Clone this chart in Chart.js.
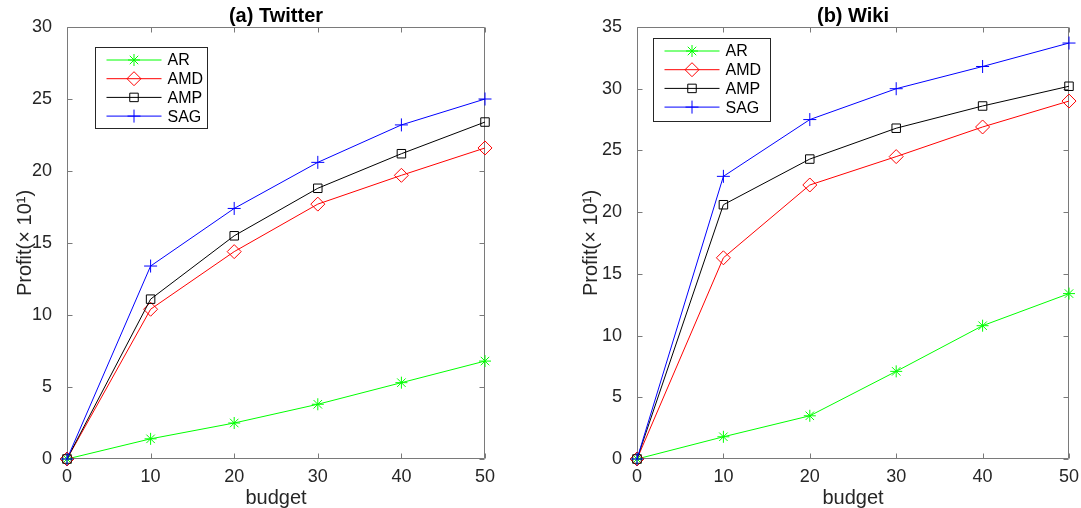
<!DOCTYPE html>
<html>
<head>
<meta charset="utf-8">
<title>Profit vs budget</title>
<script src="https://cdn.jsdelivr.net/npm/chart.js@4.4.1/dist/chart.umd.min.js"></script>
<style>
  html, body { margin: 0; padding: 0; background: #fff; }
  #wrap { position: relative; width: 1081px; height: 508px; overflow: hidden; }
  #wrap canvas { position: absolute; top: 0; }
  #twitterChart { left: 0; }
  #wikiChart { left: 540px; }
</style>
</head>
<body>
<div id="wrap">
  <canvas id="twitterChart" width="540" height="508"></canvas>
  <canvas id="wikiChart" width="541" height="508"></canvas>
</div>
<script>
// budget on the x axis, profit (x10) on the y axis
const budget = [0, 10, 20, 30, 40, 50];
const methods = ['AR', 'AMD', 'AMP', 'SAG'];

const twitterAR  = [0, 1.4, 2.5, 3.8, 5.3, 6.8];
const twitterAMD = [0, 10.4, 14.4, 17.7, 19.7, 21.6];
const twitterAMP = [0, 11.1, 15.5, 18.8, 21.2, 23.4];
const twitterSAG = [0, 13.4, 17.4, 20.6, 23.2, 25.0];

const wikiAR  = [0, 1.8, 3.5, 7.1, 10.8, 13.4];
const wikiAMD = [0, 16.3, 22.2, 24.5, 26.9, 29.0];
const wikiAMP = [0, 20.6, 24.3, 26.8, 28.6, 30.2];
const wikiSAG = [0, 22.9, 27.5, 30.0, 31.8, 33.7];

const xTicks = [0, 10, 20, 30, 40, 50];
const twitterYTicks = [0, 5, 10, 15, 20, 25, 30];
const wikiYTicks = [0, 5, 10, 15, 20, 25, 30, 35];

// line look per method
const lineColors = ['#00ff00', '#ff0000', '#000000', '#0000ff'];
const markers = ['star', 'rectRot', 'rect', 'cross'];
const markerSizes = [6, 7, 6, 6.5];

const FONT = "'Liberation Sans', Arial, Helvetica, sans-serif";
const INK = '#262626';
const FRAME = '#7a7a7a';

function makeDatasets(seriesList) {
    return seriesList.map((values, i) => ({
        label: methods[i],
        data: budget.map((b, j) => ({ x: b, y: values[j] })),
        borderColor: lineColors[i],
        backgroundColor: 'rgba(0,0,0,0)',
        borderWidth: 1,
        pointStyle: markers[i],
        pointRadius: markerSizes[i],
        pointBorderWidth: 1,
        pointBorderColor: lineColors[i],
        pointBackgroundColor: 'rgba(0,0,0,0)',
        tension: 0,
        clip: false,
        order: seriesList.length - i
    }));
}

// box, inward ticks on all four sides and the bold title
const matlabAxes = {
    id: 'matlabAxes',
    beforeDatasetsDraw(chart, args, opts) {
        const { ctx, chartArea: a, scales: { x, y } } = chart;
        const L = Math.round(a.left) + 0.5, R = Math.round(a.right) - 0.5;
        const T = Math.round(a.top) + 0.5, B = Math.round(a.bottom) - 0.5;
        ctx.save();
        ctx.strokeStyle = FRAME;
        ctx.lineWidth = 1;
        ctx.beginPath();
        ctx.rect(L, T, R - L, B - T);
        x.ticks.forEach(t => {
            const px = Math.round(x.getPixelForValue(t.value)) + 0.5;
            ctx.moveTo(px, B); ctx.lineTo(px, B - 5);
            ctx.moveTo(px, T); ctx.lineTo(px, T + 5);
        });
        y.ticks.forEach(t => {
            const py = Math.round(y.getPixelForValue(t.value)) + 0.5;
            ctx.moveTo(L, py); ctx.lineTo(L + 5, py);
            ctx.moveTo(R, py); ctx.lineTo(R - 5, py);
        });
        ctx.stroke();

        ctx.fillStyle = '#000';
        ctx.font = 'bold 20px ' + FONT;
        ctx.textAlign = 'center';
        ctx.textBaseline = 'middle';
        ctx.fillText(opts.text, (a.left + a.right) / 2, 16);
        ctx.restore();
    }
};

// framed legend sitting inside the top-left of the plot
const boxLegend = {
    id: 'boxLegend',
    afterDraw(chart, args, opts) {
        const { ctx, chartArea: a } = chart;
        const bx = Math.round(a.left + opts.left) + 0.5;
        const by = Math.round(a.top + opts.top) + 0.5;
        ctx.save();
        ctx.fillStyle = '#fff';
        ctx.strokeStyle = INK;
        ctx.lineWidth = 1;
        ctx.fillRect(bx, by, opts.width, opts.height);
        ctx.strokeRect(bx, by, opts.width, opts.height);

        ctx.font = '16px ' + FONT;
        ctx.textBaseline = 'middle';
        ctx.textAlign = 'left';
        chart.data.datasets.forEach((ds, i) => {
            const ry = by + 12.5 + i * 18.7;
            ctx.strokeStyle = ds.borderColor;
            ctx.beginPath();
            ctx.moveTo(bx + 11, ry);
            ctx.lineTo(bx + 66, ry);
            ctx.stroke();
            // open markers, same as in the plot
            ctx.fillStyle = 'rgba(0,0,0,0)';
            Chart.helpers.drawPoint(ctx, {
                pointStyle: ds.pointStyle,
                radius: ds.pointRadius,
                borderWidth: 1,
                rotation: 0
            }, bx + 38.5, ry);
            ctx.fillStyle = '#000';
            ctx.fillText(ds.label, bx + 72, ry + 1);
        });
        ctx.restore();
    }
};

function drawPanel(canvasId, title, seriesList, yTicks, yAxisWidth, yTitlePad, rightPad, legendBox) {
    const yMax = yTicks[yTicks.length - 1];
    return new Chart(document.getElementById(canvasId), {
        type: 'line',
        data: { datasets: makeDatasets(seriesList) },
        plugins: [matlabAxes, boxLegend],
        options: {
            responsive: false,
            animation: false,
            events: [],
            layout: { padding: { top: 27, right: rightPad, bottom: 0, left: 0 } },
            plugins: {
                legend: { display: false },
                tooltip: { enabled: false },
                title: { display: false },
                matlabAxes: { text: title },
                boxLegend: legendBox
            },
            scales: {
                x: {
                    type: 'linear',
                    min: 0,
                    max: 50,
                    afterBuildTicks: s => { s.ticks = xTicks.map(v => ({ value: v })); },
                    afterFit: s => { s.height = 49; },
                    grid: { display: false },
                    border: { display: false },
                    ticks: { color: INK, font: { family: FONT, size: 18 }, padding: -1, maxRotation: 0 },
                    title: {
                        display: true,
                        text: 'budget',
                        color: INK,
                        font: { family: FONT, size: 20 },
                        padding: { top: 0, bottom: -2 }
                    }
                },
                y: {
                    type: 'linear',
                    min: 0,
                    max: yMax,
                    afterBuildTicks: s => { s.ticks = yTicks.map(v => ({ value: v })); },
                    afterFit: s => { s.width = yAxisWidth; },
                    grid: { display: false },
                    border: { display: false },
                    ticks: { color: INK, font: { family: FONT, size: 18 }, padding: 7 },
                    title: {
                        display: true,
                        text: 'Profit(× 10¹)',
                        color: INK,
                        font: { family: FONT, size: 20 },
                        padding: { top: yTitlePad, bottom: 0 }
                    }
                }
            }
        }
    });
}

drawPanel('twitterChart', '(a) Twitter',
    [twitterAR, twitterAMD, twitterAMP, twitterSAG],
    twitterYTicks, 67, 13, 55,
    { left: 28, top: 20, width: 112, height: 81 });

drawPanel('wikiChart', '(b) Wiki',
    [wikiAR, wikiAMD, wikiAMP, wikiSAG],
    wikiYTicks, 97, 39, 12,
    { left: 16, top: 11, width: 117, height: 83 });
</script>
</body>
</html>
